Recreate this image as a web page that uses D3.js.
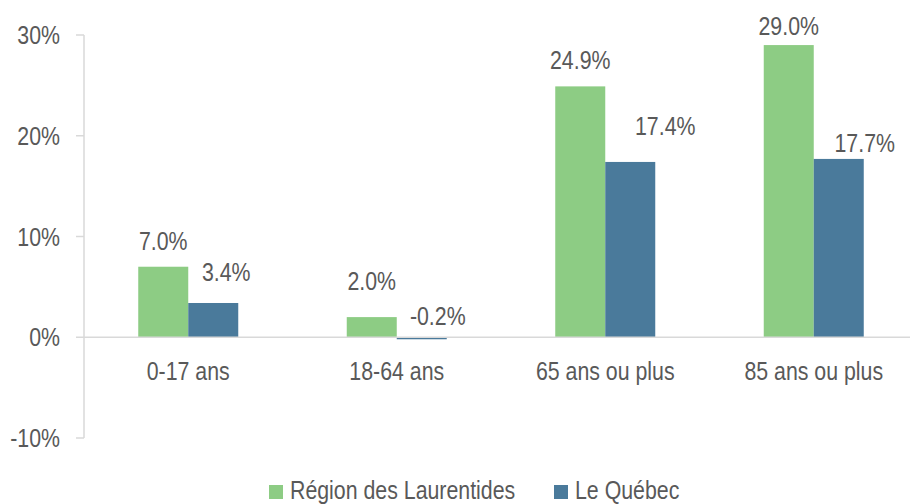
<!DOCTYPE html>
<html>
  <head>
    <meta charset="UTF-8" />
    <title>Croissance par groupe d'âge</title>
    <script src="https://d3js.org/d3.v7.min.js"></script>
    <style>
      body {
        margin: 0;
        background: #fff;
      }
      svg text {
        font-family: "Liberation Sans", Arial, sans-serif;
        font-size: 26px;
        fill: #595959;
      }
    </style>
  </head>
  <body>
    <svg id="chart" width="910" height="504"></svg>
    <script>
      // data
      const categories = ["0-17 ans", "18-64 ans", "65 ans ou plus", "85 ans ou plus"];
      const seriesNames = ["Région des Laurentides", "Le Québec"];
      const laurentides = [7.0, 2.0, 24.9, 29.0];
      const quebec = [3.4, -0.2, 17.4, 17.7];
      const yTicks = [-10, 0, 10, 20, 30];

      // hand-placed label nudges (dx, gap above bar) as in the original
      const labelDx = [[0, 0, 0, 0], [13, 16, 35, 26]];
      const labelGap = [[17, 27, 17, 10], [22, 12, 27, 7]];

      const colors = ["#8dcc84", "#4a7a9b"];
      const svg = d3.select("#chart");

      const x = d3.scaleBand().domain(categories).range([84, 918]);
      const xs = d3.scaleBand().domain(seriesNames).range([-50, 50]);
      const y = d3.scaleLinear().domain([-10, 30]).range([438, 35]);

      const series = [laurentides, quebec];

      // axis line + ticks
      svg.append("line")
        .attr("x1", 84).attr("x2", 84)
        .attr("y1", y(30)).attr("y2", y(-10))
        .attr("stroke", "#d9d9d9").attr("stroke-width", 1.5);

      const ty = svg.selectAll("g.ytick").data(yTicks).enter().append("g")
        .attr("class", "ytick")
        .attr("transform", (d) => `translate(0,${y(d)})`);
      ty.append("line").attr("x1", 76).attr("x2", 84)
        .attr("stroke", "#d9d9d9").attr("stroke-width", 1.5);
      ty.append("text").attr("x", 60).attr("dy", "0.35em")
        .attr("text-anchor", "end")
        .text((d) => d + "%");

      // bars
      series.forEach((vals, si) => {
        svg.selectAll(`rect.s${si}`).data(vals).enter().append("rect")
          .attr("class", `s${si}`)
          .attr("x", (d, i) => x(categories[i]) + x.bandwidth() / 2 + xs(seriesNames[si]))
          .attr("width", xs.bandwidth())
          .attr("y", (d) => y(Math.max(d, 0)))
          .attr("height", (d) => Math.abs(y(d) - y(0)))
          .attr("fill", colors[si]);
      });

      // zero line
      svg.append("line")
        .attr("x1", 84).attr("x2", 910)
        .attr("y1", y(0)).attr("y2", y(0))
        .attr("stroke", "#d9d9d9").attr("stroke-width", 1.5);

      // value labels
      series.forEach((vals, si) => {
        svg.selectAll(`text.l${si}`).data(vals).enter().append("text")
          .attr("class", `l${si}`)
          .attr("text-anchor", "middle")
          .attr("x", (d, i) => x(categories[i]) + x.bandwidth() / 2 + xs(seriesNames[si]) + xs.bandwidth() / 2 + labelDx[si][i])
          .attr("y", (d, i) => y(Math.max(d, 0)) - labelGap[si][i])
          .text((d) => d.toFixed(1) + "%");
      });

      // category labels
      svg.selectAll("text.cat").data(categories).enter().append("text")
        .attr("class", "cat")
        .attr("text-anchor", "middle")
        .attr("x", (d) => x(d) + x.bandwidth() / 2)
        .attr("y", 380)
        .text((d) => d);

      // legend
      const legendX = [269, 554];
      const lg = svg.selectAll("g.legend").data(seriesNames).enter().append("g")
        .attr("class", "legend")
        .attr("transform", (d, i) => `translate(${legendX[i]},485)`);
      lg.append("rect").attr("width", 14).attr("height", 14)
        .attr("fill", (d, i) => colors[i]);
      lg.append("text").attr("x", 21).attr("y", 14).text((d) => d);

      // narrow font look: squeeze every text to ~82% width
      svg.selectAll("text").each(function () {
        const w = this.getComputedTextLength();
        d3.select(this)
          .attr("textLength", w * 0.82)
          .attr("lengthAdjust", "spacingAndGlyphs");
      });
    </script>
  </body>
</html>
